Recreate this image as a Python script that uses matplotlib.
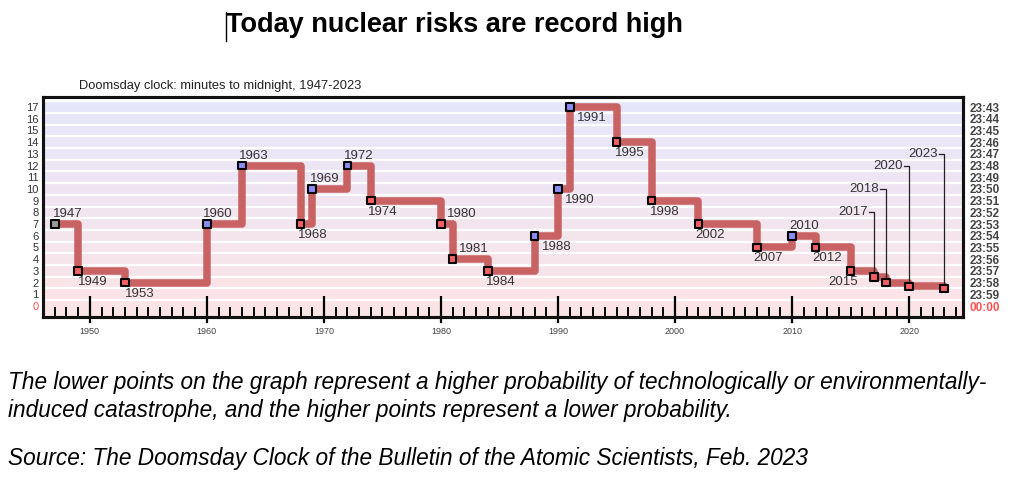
import matplotlib
matplotlib.use("Agg")
import matplotlib.pyplot as plt
from matplotlib.lines import Line2D
import numpy as np

years = [1947, 1949, 1953, 1960, 1963, 1968, 1969, 1972, 1974, 1980, 1981,
         1984, 1988, 1990, 1991, 1995, 1998, 2002, 2007, 2010, 2012, 2015,
         2017, 2018, 2020, 2023]
minutes = [7, 3, 2, 7, 12, 7, 10, 12, 9, 7, 4, 3, 6, 10, 17, 14, 9, 7, 5, 6,
           5, 3, 2.5, 2, 1.67, 1.5]
clock_labels = ["00:00"] + [f"23:{60 - m}" for m in range(1, 18)]

title = "Today nuclear risks are record high"
subtitle = "Doomsday clock: minutes to midnight, 1947-2023"
caption1 = ("The lower points on the graph represent a higher probability of "
            "technologically or environmentally-")
caption2 = "induced catastrophe, and the higher points represent a lower probability."
caption3 = "Source: The Doomsday Clock of the Bulletin of the Atomic Scientists, Feb. 2023"

# label placement: (dx px, side) ; side 'a' above, 'b' below
label_pos = {
    1947: (-2, "a"), 1949: (0, "b"), 1953: (0, "b"), 1960: (-4, "a"),
    1963: (-3, "a"), 1968: (-3, "b"), 1969: (-2, "a"), 1972: (-3, "a"),
    1974: (-3, "b"), 1980: (6, "a"), 1981: (6, "a"), 1984: (-2, "b"),
    1988: (7, "b"), 1990: (7, "b"), 1991: (7, "b"), 1995: (-2, "b"),
    1998: (-2, "b"), 2002: (-3, "b"), 2007: (-4, "b"), 2010: (-3, "a"),
    2012: (-3, "b"), 2015: (7, "bl"),
}
leader_top = {2017: 8, 2018: 10, 2020: 12, 2023: 13}

plt.rcParams["font.family"] = ["Liberation Sans", "DejaVu Sans"]

fig = plt.figure(figsize=(10.24, 4.78), dpi=100)
ax = fig.add_axes([43 / 1024, 1 - 317 / 478, 920 / 1024, 220 / 478])

ylo, yhi = -0.94, 17.86
ax.set_xlim(1946, 2024.6)
ax.set_ylim(ylo, yhi)

# background bands, lavender at top fading to pink at bottom
top_c = np.array([230, 230, 250]) / 255
bot_c = np.array([251, 228, 230]) / 255
for n in range(18):
    t = n / 17
    c = bot_c * (1 - t) + top_c * t
    lo = n - 0.5 if n > 0 else ylo
    ax.axhspan(lo, n + 0.5, color=c, lw=0, zorder=0)
    ax.axhline(n + 0.5, color="white", lw=1.6, zorder=0.5)

ax.step(years, minutes, where="post", color="#c96262", lw=5.4,
        solid_capstyle="butt", zorder=2)

colors = []
for i, m in enumerate(minutes):
    if i == 0:
        colors.append("#9a9a9a")
    elif m > minutes[i - 1]:
        colors.append("#8c8cf5")
    else:
        colors.append("#f56060")
ax.scatter(years, minutes, marker="s", s=30, c=colors, edgecolors="black",
           linewidths=1.5, zorder=4)

for y, m in zip(years, minutes):
    if y in label_pos:
        dx, side = label_pos[y]
        if side == "a":
            ax.annotate(str(y), (y, m), xytext=(dx, 4), textcoords="offset pixels",
                        ha="left", va="bottom", fontsize=9.5, color="#333333", zorder=5)
        elif side == "b":
            ax.annotate(str(y), (y, m), xytext=(dx, -5), textcoords="offset pixels",
                        ha="left", va="top", fontsize=9.5, color="#333333", zorder=5)
        else:
            ax.annotate(str(y), (y, m), xytext=(dx, -5), textcoords="offset pixels",
                        ha="right", va="top", fontsize=9.5, color="#333333", zorder=5)
    elif y in leader_top:
        top = leader_top[y]
        ax.plot([y - 0.45, y, y], [top, top, m], color="#222222", lw=0.9, zorder=3)
        ax.text(y - 0.55, top, str(y), ha="right", va="center", fontsize=9.5,
                color="#333333", zorder=5)

# ticks
ax.set_yticks(range(18))
ax.set_yticklabels([str(n) for n in range(18)], fontsize=8, color="#333333")
ax.get_yticklabels()[0].set_color("#ff5555")
ax.tick_params(axis="y", length=0, pad=3)

ax2 = ax.twinx()
ax2.set_ylim(ylo, yhi)
ax2.set_yticks(range(18))
ax2.set_yticklabels(clock_labels, fontsize=8.5, color="#444444", fontweight="bold")
ax2.get_yticklabels()[0].set_color("#ff5555")
ax2.tick_params(axis="y", length=0, pad=5)

ax.set_xticks(range(1950, 2030, 10))
ax.set_xticks(range(1947, 2025), minor=True)
ax.set_xticklabels([str(v) for v in range(1950, 2030, 10)], fontsize=6.5, color="#444444")
ax.tick_params(axis="x", which="major", direction="in", length=15, width=1.6, pad=7)
ax.tick_params(axis="x", which="minor", direction="in", length=7, width=1.4)
for v in range(1950, 2030, 10):
    ax.plot([v, v], [0, -0.022], transform=ax.get_xaxis_transform(),
            color="black", lw=1.6, clip_on=False)

for a in (ax, ax2):
    for s in a.spines.values():
        s.set_linewidth(2.2)
        s.set_color("#111111")

fig.text(0.444, 0.948, title, ha="center", va="center", fontsize=19.5,
         fontweight="bold", color="black")
fig.add_artist(Line2D([226 / 1024, 226 / 1024], [1 - 12 / 478, 1 - 41 / 478],
                      color="black", lw=1))
fig.text(79 / 1024, 1 - 86 / 478, subtitle, ha="left", va="center", fontsize=9.3,
         color="#222222")

cap_font = ["Liberation Sans", "DejaVu Sans"]
for txt, ypix in ((caption1, 383), (caption2, 411), (caption3, 458)):
    fig.text(8 / 1024, 1 - ypix / 478, txt, ha="left", va="center", fontsize=16.3,
             style="italic", family=cap_font, color="black")

fig.savefig("out.png", dpi=100)
